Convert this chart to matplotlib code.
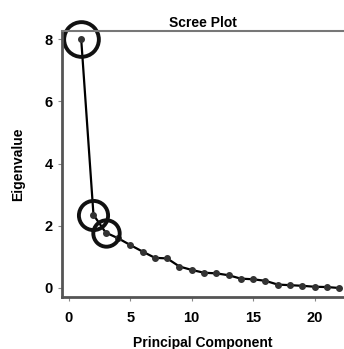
import matplotlib.pyplot as plt

# componentes e autovalores
componente = list(range(1, 23))
autovalor = [8.0, 2.35, 1.78, 1.6, 1.38, 1.17, 0.97, 0.95, 0.69, 0.58, 0.49,
             0.47, 0.41, 0.30, 0.28, 0.23, 0.11, 0.09, 0.07, 0.04, 0.03, 0.0]

# pontos destacados com circulos
destaque_x = [1, 2, 3]
destaque_y = [8.0, 2.35, 1.78]
destaque_tam = [25, 21, 19]

plt.rcParams['font.family'] = ['Liberation Sans', 'DejaVu Sans']
plt.rcParams['font.weight'] = 'bold'

fig = plt.figure(figsize=(3.44, 3.49), dpi=100)
ax = fig.add_axes([0.180, 0.149, 0.82, 0.762])

ax.plot(componente, autovalor, color='black', lw=1.6, marker='o', ms=4,
        markerfacecolor='#333333', markeredgecolor='#333333')
for x, y, t in zip(destaque_x, destaque_y, destaque_tam):
    ax.plot([x], [y], ls='none', marker='o', ms=t, clip_on=False,
            markerfacecolor='none', markeredgecolor='#111111', markeredgewidth=2.8)

ax.set_xlim(-0.57, 22.4)
ax.set_ylim(-0.29, 8.26)
ax.set_xticks([0, 5, 10, 15, 20])
ax.set_yticks([0, 2, 4, 6, 8])
ax.tick_params(labelsize=10.5, length=3, color='#888888', width=0.8)
ax.tick_params(axis='x', pad=7)

for s in ['left', 'bottom']:
    ax.spines[s].set_color('#555555')
    ax.spines[s].set_linewidth(2)
ax.spines['top'].set_color('#777777')
ax.spines['top'].set_linewidth(1.5)
ax.spines['right'].set_visible(False)

ax.set_title('Scree Plot', fontsize=10, fontweight='bold', pad=3)
ax.set_xlabel('Principal Component', fontsize=10, fontweight='bold', labelpad=8)
ax.set_ylabel('Eigenvalue', fontsize=10, fontweight='bold', labelpad=14)

fig.savefig('out.png', dpi=100)
